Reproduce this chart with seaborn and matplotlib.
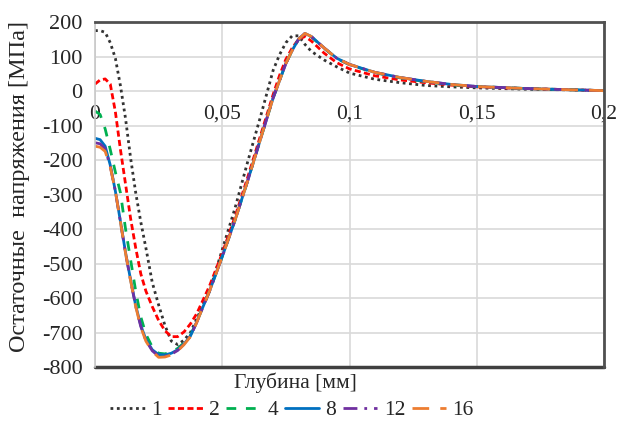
import pandas as pd
import numpy as np
import matplotlib.pyplot as plt
import seaborn as sns

# ==============================
# DATA
# ==============================

depth = [0, 0.002, 0.004, 0.006, 0.008, 0.01, 0.012, 0.014, 0.016, 0.018,
         0.02, 0.0225, 0.025, 0.0275, 0.03, 0.0325, 0.035, 0.0375, 0.04, 0.045,
         0.05, 0.055, 0.06, 0.065, 0.07, 0.0725, 0.075, 0.0775, 0.08, 0.0825,
         0.085, 0.09, 0.095, 0.1, 0.11, 0.12, 0.13, 0.14, 0.15, 0.16,
         0.17, 0.18, 0.19, 0.2]

s1 = [175, 175, 170, 140, 95, 15, -80, -195, -295, -380,
      -455, -555, -620, -680, -725, -735, -722, -700, -660, -580,
      -460, -340, -205, -75, 60, 105, 140, 160, 160, 135,
      115, 90, 70, 52, 34, 24, 16, 12, 9, 7,
      5, 4, 3, 1]

s2 = [20, 32, 35, 20, -60, -170, -270, -370, -455, -530,
      -580, -625, -665, -695, -712, -712, -698, -675, -645, -565,
      -470, -365, -250, -130, -10, 45, 92, 125, 150, 158,
      145, 110, 82, 64, 44, 32, 24, 17, 12, 9,
      7, 5, 3, 1]

s4 = [-58, -68, -110, -170, -235, -295, -400, -490, -580, -655,
      -705, -742, -760, -762, -756, -746, -730, -708, -668, -580,
      -480, -375, -260, -140, -20, 30, 80, 118, 150, 166,
      157, 124, 94, 76, 53, 38, 27, 18, 13, 10,
      7, 5, 3, 1]

s8 = [-137, -141, -160, -215, -290, -378, -468, -548, -622, -680,
      -720, -750, -764, -765, -760, -750, -733, -710, -669, -580,
      -480, -375, -260, -140, -20, 30, 80, 118, 150, 167,
      158, 125, 95, 77, 54, 39, 28, 19, 13, 10,
      7, 5, 3, 1]

s12 = [-150, -153, -168, -218, -290, -380, -470, -550, -624, -683,
       -723, -753, -769, -769, -763, -752, -734, -711, -670, -580,
       -480, -375, -260, -140, -20, 30, 80, 118, 150, 167,
       158, 125, 95, 77, 54, 39, 28, 19, 13, 10,
       7, 5, 3, 1]

s16 = [-160, -163, -175, -220, -290, -380, -470, -550, -625, -685,
       -725, -755, -772, -771, -765, -753, -735, -712, -670, -580,
       -480, -375, -260, -140, -20, 30, 80, 118, 150, 167,
       158, 125, 95, 77, 54, 39, 28, 19, 13, 10,
       7, 5, 3, 1]

labels = ["1", "2", "4", "8", "12", "16"]
series = [s1, s2, s4, s8, s12, s16]

x_ticks = [0, 0.05, 0.1, 0.15, 0.2]
x_tick_labels = ["0", "0,05", "0,1", "0,15", "0,2"]
y_ticks = list(range(-800, 201, 100))

colors = ["#333333", "#FF0000", "#00B050", "#0070C0", "#7030A0", "#ED7D31"]
dashes = [(1, 1.3), (2.2, 1.2), (3.5, 3.5), "", (5, 2.5, 1, 2.5), (6, 4)]

df = pd.DataFrame({
    "depth": np.tile(depth, len(labels)),
    "stress": np.concatenate(series),
    "n": np.repeat(labels, len(depth)),
})

# ==============================
# PLOT
# ==============================

sns.set_style("white")
plt.rcParams['font.family'] = ['Liberation Serif', 'DejaVu Serif']

fig = plt.figure(figsize=(6.18, 4.30), dpi=100)
ax = fig.add_axes([95 / 618, 1 - 367 / 430, 509 / 618, 345 / 430])

sns.lineplot(data=df, x="depth", y="stress", hue="n", style="n",
             hue_order=labels, style_order=labels,
             palette=dict(zip(labels, colors)),
             dashes=dict(zip(labels, dashes)),
             estimator=None, sort=False, linewidth=2.0, legend=False, ax=ax)

ax.set_xlim(0, 0.2)
ax.set_ylim(-800, 200)
ax.set_xticks(x_ticks)
ax.set_xticklabels(x_tick_labels)
ax.set_yticks(y_ticks)
ax.set_yticklabels([str(v) for v in y_ticks])
ax.grid(True, color="#d9d9d9", linewidth=1.2)
ax.set_axisbelow(True)

# x tick labels sit on the zero line
ax.spines['bottom'].set_position(('data', 0))
ax.spines['bottom'].set_visible(False)
ax.tick_params(axis='x', length=0, pad=10, labelsize=15.5)
ax.tick_params(axis='y', length=0, pad=9, labelsize=16)

ax.spines['top'].set_color("#505050")
ax.spines['top'].set_linewidth(2)
ax.spines['right'].set_color("#505050")
ax.spines['right'].set_linewidth(2)
ax.spines['left'].set_color("#c8c8c8")
ax.spines['left'].set_linewidth(1.2)
ax.plot([0, 1], [0, 0], transform=ax.transAxes, color="#404040",
        linewidth=2.5, clip_on=False)

ax.set_xlabel("")
ax.set_ylabel("")
fig.text(295 / 618, 1 - 383 / 430, "Глубина [мм]", fontsize=15.5,
         ha="center", va="center")
fig.text(20 / 618, 1 - 187 / 430, "Остаточные  напряжения [МПа]", fontsize=17.5,
         rotation=90, ha="center", va="center")

fig.legend(ax.lines[:len(labels)], labels, loc="center", ncol=6,
           bbox_to_anchor=(292 / 618, 1 - 410 / 430), frameon=False,
           fontsize=15.5, handlelength=1.6, columnspacing=0.3, handletextpad=0.3)

plt.savefig("out.png", dpi=100)
